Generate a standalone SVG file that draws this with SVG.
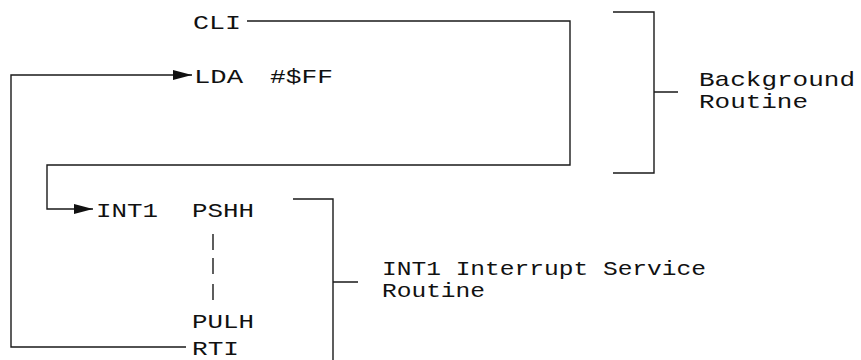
<svg xmlns="http://www.w3.org/2000/svg" width="861" height="360" viewBox="0 0 861 360">
<defs>
<style>
text{font-family:"Liberation Mono","DejaVu Sans Mono",monospace;font-size:21px;fill:#111}
.ln{fill:none;stroke:#1a1a1a;stroke-width:1.4}
</style>
<marker id="ah" markerUnits="userSpaceOnUse" markerWidth="20" markerHeight="10" refX="19" refY="5" orient="auto" viewBox="0 0 20 10">
<path d="M0,0 L19,5 L0,10 z" fill="#111"/>
</marker>
</defs>
<rect width="861" height="360" fill="#fff"/>
<g id="connectors">
<path class="ln" d="M186,347 H11 V75 H192" marker-end="url(#ah)"/>
<path class="ln" d="M247,21 H570 V165 H47 V209 H93" marker-end="url(#ah)"/>
<path class="ln" d="M213,234 V250 M213,258 V274 M213,284 V300"/>
</g>
<g id="bracket-background">
<path class="ln" d="M613,12 H654 V173 H613 M654,92 H678"/>
</g>
<g id="bracket-int1">
<path class="ln" d="M293,199 H333 V360 M333,282 H358"/>
</g>
<g id="node-cli"><text x="193" y="29" textLength="48" lengthAdjust="spacingAndGlyphs">CLI</text></g>
<g id="node-lda"><text x="194" y="83" textLength="49" lengthAdjust="spacingAndGlyphs">LDA</text><text x="270" y="83" textLength="63" lengthAdjust="spacingAndGlyphs">#$FF</text></g>
<g id="node-int1"><text x="96" y="217" textLength="62" lengthAdjust="spacingAndGlyphs">INT1</text><text x="192" y="217" textLength="62" lengthAdjust="spacingAndGlyphs">PSHH</text></g>
<g id="node-pulh"><text x="192" y="328" textLength="62" lengthAdjust="spacingAndGlyphs">PULH</text></g>
<g id="node-rti"><text x="192" y="355" textLength="47" lengthAdjust="spacingAndGlyphs">RTI</text></g>
<g id="label-background"><text x="699" y="86" textLength="156" lengthAdjust="spacingAndGlyphs">Background</text><text x="699" y="108" textLength="109" lengthAdjust="spacingAndGlyphs">Routine</text></g>
<g id="label-int1"><text x="382" y="275" textLength="324" lengthAdjust="spacingAndGlyphs">INT1 Interrupt Service</text><text x="382" y="297" textLength="103" lengthAdjust="spacingAndGlyphs">Routine</text></g>
</svg>
